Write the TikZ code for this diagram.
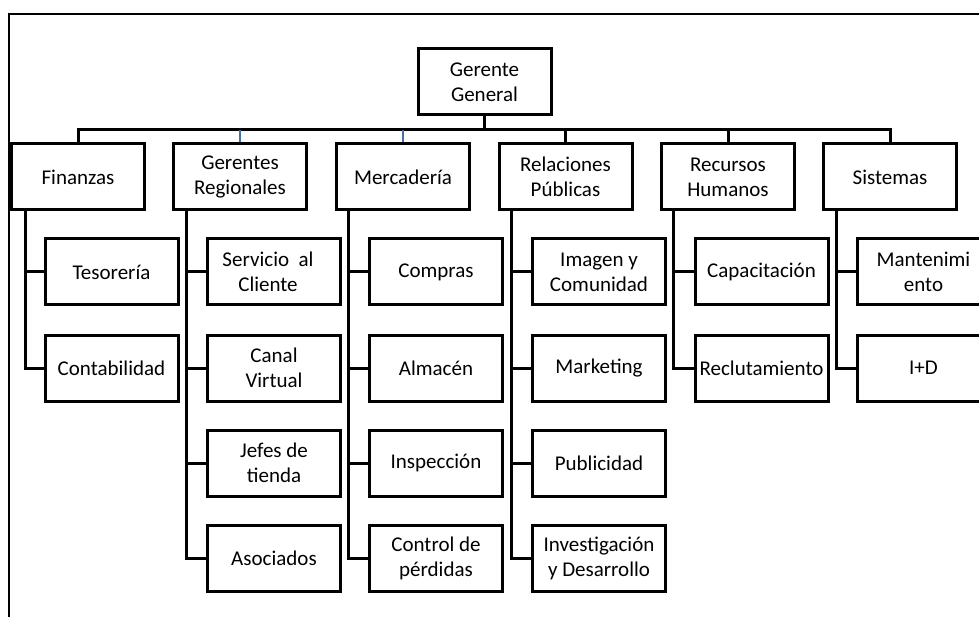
\documentclass[tikz,border=0pt]{standalone}
\usepackage{fontspec}
\setmainfont{Carlito}
\begin{document}
\begin{tikzpicture}[x=1pt,y=-1pt,
  box/.style={draw, line width=3pt, minimum width=133pt, minimum height=66pt,
    inner sep=0pt, align=center, font=\fontsize{21}{25}\selectfont, fill=white},
  conn/.style={line width=3pt},
  blueconn/.style={line width=2.6pt, draw=linkblue}]
\definecolor{linkblue}{HTML}{4A6FA5}
\useasboundingbox (0,0) rectangle (979,617);
\clip (0,0) rectangle (979,617);
% frame
\draw[line width=2.2pt] (9,617) -- (9,14) -- (979,14);
% top
\node[box] (gg) at (484.5,82) {Gerente\\General};
% level 1
\node[box] (fin) at (78,177) {Finanzas};
\node[box] (ger) at (240,177) {Gerentes\\Regionales};
\node[box] (mer) at (403,177) {Mercadería};
\node[box] (rp)  at (565.5,177) {Relaciones\\Públicas};
\node[box] (rh)  at (728,177) {Recursos\\Humanos};
\node[box] (sis) at (890,177) {Sistemas};
% bus
\coordinate (bus) at (484.5,130);
\draw[conn] (fin.north) |- (bus) -| (sis.north);
\draw[conn] (gg.south) -- (bus);
\draw[blueconn] (ger.north) -- (ger.north |- bus);
\draw[blueconn] (mer.north) -- (mer.north |- bus);
\draw[conn] (rp.north) -- (rp.north |- bus);
\draw[conn] (rh.north) -- (rh.north |- bus);
% children
\node[box] (tes) at (111.5,272) {Tesorería};
\node[box] (con) at (111.5,368) {Contabilidad};
\node[box] (ser) at (274,272) {\hspace*{-12pt}Servicio\ \ al\\\hspace*{-12pt}Cliente};
\node[box] (can) at (274,368) {Canal\\Virtual};
\node[box] (jef) at (274,463) {Jefes de\\tienda};
\node[box] (aso) at (274,558) {Asociados};
\node[box] (com) at (436,272) {Compras};
\node[box] (alm) at (436,368) {Almacén};
\node[box] (ins) at (436,463) {Inspección};
\node[box] (ctl) at (436,558) {Control de\\pérdidas};
\node[box] (ima) at (599,272) {Imagen y\\Comunidad};
\node[box] (mkt) at (599,368) {Marketing};
\node[box] (pub) at (599,463) {Publicidad};
\node[box] (inv) at (599,558) {Investigación\\y Desarrollo};
\node[box] (cap) at (761.5,272) {Capacitación};
\node[box] (rec) at (761.5,368) {Reclutamiento};
\node[box] (man) at (923.5,272) {Mantenimi\\ento};
\node[box] (id)  at (923.5,368) {I+D};
% child connectors
\draw[conn] ([xshift=15pt]fin.south west) |- (tes.west);
\draw[conn] ([xshift=15pt]fin.south west) |- (con.west);
\draw[conn] ([xshift=14pt]ger.south west) |- (ser.west);
\draw[conn] ([xshift=14pt]ger.south west) |- (can.west);
\draw[conn] ([xshift=14pt]ger.south west) |- (jef.west);
\draw[conn] ([xshift=14pt]ger.south west) |- (aso.west);
\draw[conn] ([xshift=13pt]mer.south west) |- (com.west);
\draw[conn] ([xshift=13pt]mer.south west) |- (alm.west);
\draw[conn] ([xshift=13pt]mer.south west) |- (ins.west);
\draw[conn] ([xshift=13pt]mer.south west) |- (ctl.west);
\draw[conn] ([xshift=14pt]rp.south west) |- (ima.west);
\draw[conn] ([xshift=14pt]rp.south west) |- (mkt.west);
\draw[conn] ([xshift=14pt]rp.south west) |- (pub.west);
\draw[conn] ([xshift=14pt]rp.south west) |- (inv.west);
\draw[conn] ([xshift=13pt]rh.south west) |- (cap.west);
\draw[conn] ([xshift=13pt]rh.south west) |- (rec.west);
\draw[conn] ([xshift=14pt]sis.south west) |- (man.west);
\draw[conn] ([xshift=14pt]sis.south west) |- (id.west);
\end{tikzpicture}
\end{document}
